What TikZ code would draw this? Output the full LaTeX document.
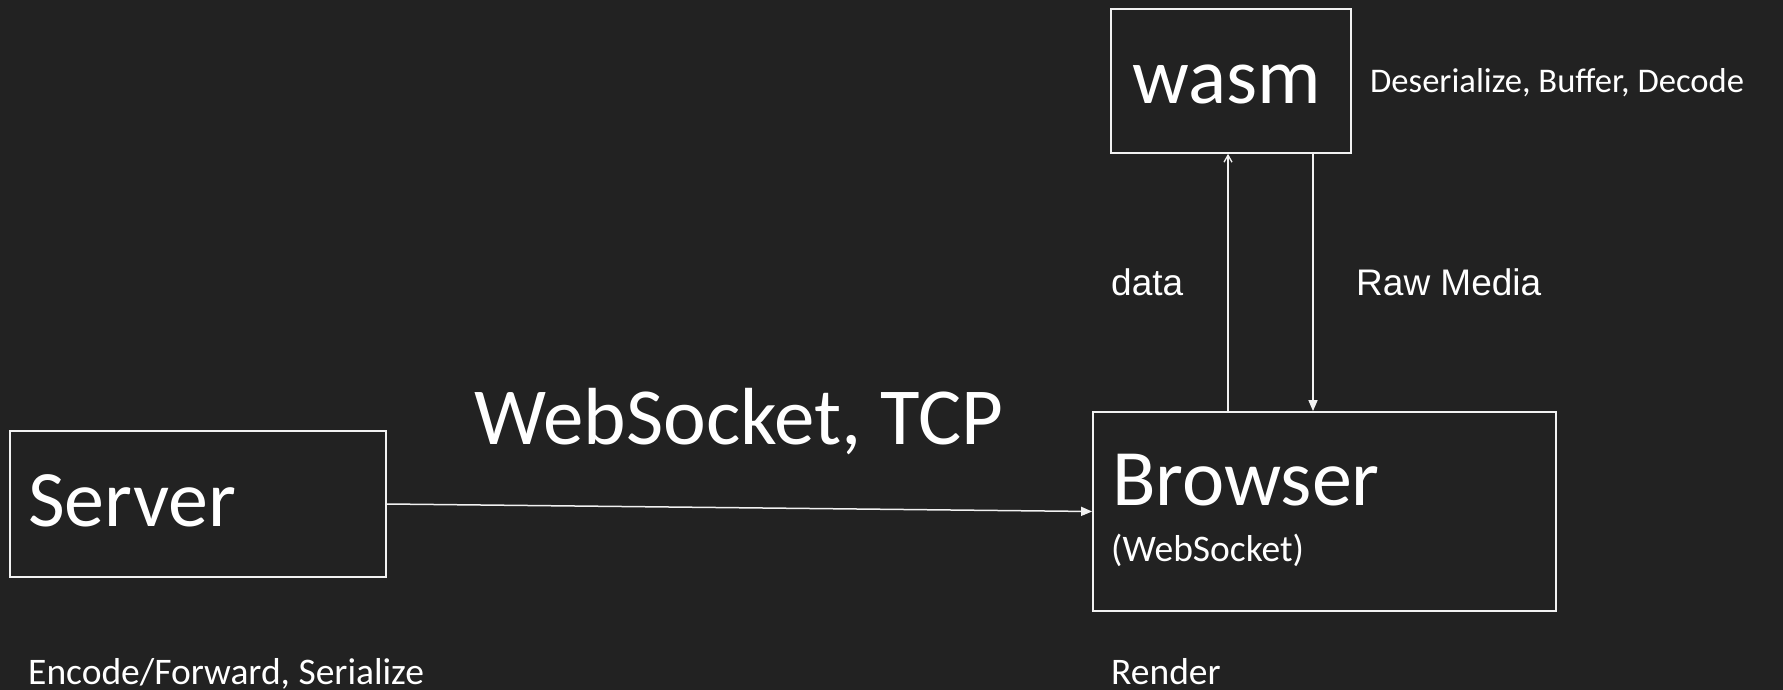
\documentclass[tikz,border=0pt]{standalone}
\usepackage{fontspec}
\setmainfont{Carlito}
\newfontfamily\arialfont{Liberation Sans}
\usetikzlibrary{arrows.meta}
\definecolor{canvas}{HTML}{222222}
\definecolor{ink}{HTML}{F2F2F2}
\tikzset{
  box/.style={draw=ink, line width=1.8pt, inner sep=0pt},
  lbl/.style={text=white, inner sep=0pt, anchor=base west},
  big/.style={lbl, font=\fontsize{80}{92}\selectfont},
  small/.style={lbl, font=\fontsize{37.5}{44}\selectfont},
  sans/.style={lbl, font=\arialfont\fontsize{37}{44}\selectfont},
  link/.style={draw=ink, line width=1.5pt},
  tri/.style={-{Triangle[length=11pt,width=9pt]}},
  barb/.style={-{Straight Barb[length=7pt,width=8pt,line width=1.3pt]}}
}
\begin{document}
\begin{tikzpicture}[x=1pt, y=-1pt]
  \useasboundingbox (0,0) rectangle (1783,690);
  \fill[canvas] (0,0) rectangle (1783,690);

  % boxes
  \node[box, minimum width=376pt, minimum height=146pt] (server) at (198,504) {};
  \node[box, minimum width=463pt, minimum height=199pt] (browser) at (1324.5,511.5) {};
  \node[box, minimum width=240pt, minimum height=144pt] (wasm) at (1231,81) {};

  % box labels
  \node[big] (servertxt) at (28,526) {Server};
  \node[big] (browsertxt) at (1112,505) {Browser};
  \node[small] (browsersub) at (1111,561) {(WebSocket)};
  \node[lbl, font=\fontsize{79.5}{92}\selectfont] (wasmtxt) at (1132,104) {wasm};

  % side notes
  \node[small] (servernote) at (28,684) {Encode/Forward, Serialize};
  \node[small] (browsernote) at (1111,684) {Render};
  \node[lbl, font=\fontsize{34.6}{40}\selectfont] (wasmnote) at (1370,93) {Deserialize, Buffer, Decode};
  \node[lbl, font=\fontsize{81}{92}\selectfont] (linktxt) at (474,444) {WebSocket, TCP};
  \node[sans] (datatxt) at (1111,295) {data};
  \node[sans] (rawtxt) at (1356,295) {Raw Media};

  % connectors
  \coordinate (upx) at (1228,0);
  \coordinate (downx) at (1313,0);
  \draw[link, tri] (server.east) -- (browser.west);
  \draw[link, barb] (browser.north -| upx) -- (wasm.south -| upx);
  \draw[link, tri] (wasm.south -| downx) -- (browser.north -| downx);
\end{tikzpicture}
\end{document}
